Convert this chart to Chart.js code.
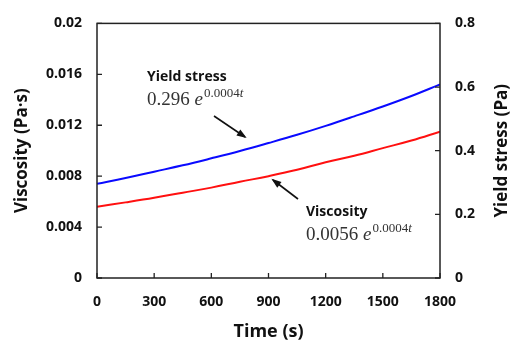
<!DOCTYPE html>
<html>
<head>
<meta charset="utf-8">
<script src="https://cdn.jsdelivr.net/npm/chart.js@4"></script>
<style>
  html, body { margin: 0; padding: 0; background: #fff; }
  #wrap { width: 519px; height: 347px; }
</style>
</head>
<body>
<div id="wrap"><canvas id="chart" width="519" height="347"></canvas></div>
<script>
// ================================
// DATA
// ================================

// time in seconds
let times = [0, 150, 300, 450, 600, 750, 900, 1050, 1200, 1350, 1500, 1650, 1800];

// yield stress, Pa (right axis)
let yieldStress = [0.296, 0.314, 0.334, 0.354, 0.376, 0.399, 0.424, 0.450, 0.478, 0.508, 0.539, 0.572, 0.608];

// viscosity, Pa·s (left axis)
let viscosity = [0.0056, 0.00594, 0.0063, 0.0067, 0.0071, 0.00756, 0.0080, 0.0085, 0.0091, 0.0096, 0.0102, 0.0108, 0.0115];

let xTicks = [0, 300, 600, 900, 1200, 1500, 1800];
let leftTicks = [0, 0.004, 0.008, 0.012, 0.016, 0.02];
let rightTicks = [0, 0.2, 0.4, 0.6, 0.8];

const FONT = "'Open Sans', 'DejaVu Sans', sans-serif";
const SERIF = "'Liberation Serif', 'DejaVu Serif', serif";

// ================================
// PLUGINS: frame, inward ticks, annotations
// ================================

let framePlugin = {
  id: "frame",
  afterDatasetsDraw(chart) {
    let c = chart.ctx;
    let a = chart.chartArea;
    let x = chart.scales.x, yl = chart.scales.y, yr = chart.scales.y2;
    c.save();
    c.strokeStyle = "#222";
    c.lineWidth = 1.5;
    c.strokeRect(a.left, a.top, a.right - a.left, a.bottom - a.top);

    // inward tick marks
    c.lineWidth = 1.3;
    c.beginPath();
    xTicks.forEach(v => {
      let px = x.getPixelForValue(v);
      c.moveTo(px, a.bottom); c.lineTo(px, a.bottom - 5);
    });
    leftTicks.forEach(v => {
      let py = yl.getPixelForValue(v);
      c.moveTo(a.left, py); c.lineTo(a.left + 5, py);
    });
    rightTicks.forEach(v => {
      let py = yr.getPixelForValue(v);
      c.moveTo(a.right, py); c.lineTo(a.right - 5, py);
    });
    c.stroke();

    // right axis title, read bottom to top like the left one
    c.translate(502, (a.top + a.bottom) / 2);
    c.rotate(-Math.PI / 2);
    c.fillStyle = "#111";
    c.font = "bold 17px " + FONT;
    c.textAlign = "center";
    c.textBaseline = "middle";
    c.fillText("Yield stress (Pa)", 0, 0);
    c.restore();
  }
};

// draws "0.296 e^0.0004t" style label
function drawFormula(c, coef, x, y) {
  c.textBaseline = "alphabetic";
  c.textAlign = "left";
  c.fillStyle = "#333";
  c.font = "19px " + SERIF;
  let s = coef + " ";
  c.fillText(s, x, y);
  let w = c.measureText(s).width;
  c.font = "italic 19px " + SERIF;
  c.fillText("e", x + w, y);
  w += c.measureText("e").width + 1;
  c.font = "13px " + SERIF;
  c.fillText("0.0004", x + w, y - 8);
  w += c.measureText("0.0004").width;
  c.font = "italic 13px " + SERIF;
  c.fillText("t", x + w, y - 8);
}

function arrow(c, x1, y1, x2, y2) {
  c.save();
  c.strokeStyle = "#111";
  c.fillStyle = "#111";
  c.lineWidth = 1.6;
  c.beginPath();
  c.moveTo(x1, y1); c.lineTo(x2, y2);
  c.stroke();
  let ang = Math.atan2(y2 - y1, x2 - x1);
  let len = 8, wid = 3.5;
  c.beginPath();
  c.moveTo(x2 + Math.cos(ang) * 2, y2 + Math.sin(ang) * 2);
  c.lineTo(x2 - len * Math.cos(ang) + wid * Math.sin(ang), y2 - len * Math.sin(ang) - wid * Math.cos(ang));
  c.lineTo(x2 - len * Math.cos(ang) - wid * Math.sin(ang), y2 - len * Math.sin(ang) + wid * Math.cos(ang));
  c.closePath();
  c.fill();
  c.restore();
}

let notePlugin = {
  id: "notes",
  afterDraw(chart) {
    let c = chart.ctx;
    c.save();
    c.fillStyle = "#111";
    c.font = "bold 14px " + FONT;
    c.textAlign = "left";
    c.textBaseline = "alphabetic";
    c.fillText("Yield stress", 147, 81);
    drawFormula(c, "0.296", 147, 105);
    arrow(c, 214, 116, 245, 137);

    c.fillStyle = "#111";
    c.font = "bold 14px " + FONT;
    c.fillText("Viscosity", 306, 216);
    drawFormula(c, "0.0056", 306, 240);
    arrow(c, 298, 199, 273, 180);
    c.restore();
  }
};

// ================================
// CHART
// ================================

let ctx = document.getElementById("chart").getContext("2d");

let chart = new Chart(ctx, {
  type: "line",
  data: {
    labels: times,
    datasets: [
      {
        label: "Yield stress",
        data: times.map((t, i) => ({ x: t, y: yieldStress[i] })),
        borderColor: "#0a0aff",
        borderWidth: 2,
        pointRadius: 0,
        tension: 0.4,
        yAxisID: "y2"
      },
      {
        label: "Viscosity",
        data: times.map((t, i) => ({ x: t, y: viscosity[i] })),
        borderColor: "#ff1010",
        borderWidth: 2,
        pointRadius: 0,
        tension: 0.4,
        yAxisID: "y"
      }
    ]
  },
  options: {
    responsive: false,
    animation: false,
    devicePixelRatio: 1,
    layout: { padding: { top: 16, left: 0, right: 0, bottom: 0 } },
    plugins: { legend: { display: false }, tooltip: { enabled: false } },
    scales: {
      x: {
        type: "linear",
        min: 0, max: 1800,
        afterBuildTicks: s => { s.ticks = xTicks.map(v => ({ value: v })); },
        afterFit: s => { s.height = 69; },
        grid: { display: false, drawTicks: false },
        border: { display: false },
        ticks: { color: "#111", padding: 16, font: { family: FONT, size: 14, weight: "bold" }, maxRotation: 0, callback: v => String(v) },
        title: { display: true, text: "Time (s)", color: "#111", padding: { top: 7 }, font: { family: FONT, size: 18, weight: "bold" } }
      },
      y: {
        position: "left",
        min: 0, max: 0.02,
        afterBuildTicks: s => { s.ticks = leftTicks.map(v => ({ value: v })); },
        afterFit: s => { s.width = 97; },
        grid: { display: false, drawTicks: false },
        border: { display: false },
        ticks: { color: "#111", padding: 15, font: { family: FONT, size: 14, weight: "bold" }, callback: v => String(v) },
        title: { display: true, text: "Viscosity (Pa·s)", color: "#111", padding: { top: 12 }, font: { family: FONT, size: 17, weight: "bold" } }
      },
      y2: {
        position: "right",
        min: 0, max: 0.8,
        afterBuildTicks: s => { s.ticks = rightTicks.map(v => ({ value: v })); },
        afterFit: s => { s.width = 79; },
        grid: { display: false, drawTicks: false },
        border: { display: false },
        ticks: { color: "#111", padding: 15, font: { family: FONT, size: 14, weight: "bold" }, callback: v => String(v) },
        title: { display: false }
      }
    }
  },
  plugins: [framePlugin, notePlugin]
});
</script>
</body>
</html>
